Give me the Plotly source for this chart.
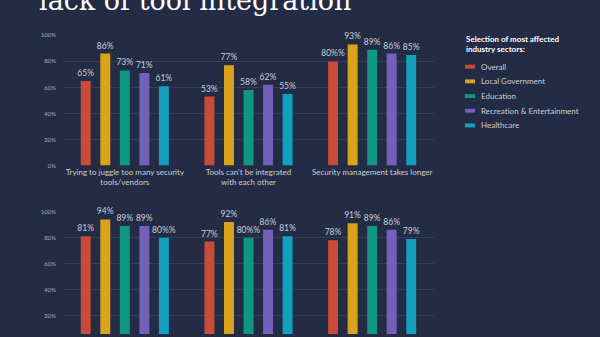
import plotly.graph_objects as go

W, H = 600, 337

series_names = ["Overall", "Local Government", "Education", "Recreation & Entertainment", "Healthcare"]
series_colors = ["#c94b38", "#d9a41c", "#0f9783", "#7460bb", "#139fbe"]

top_categories = ["Trying to juggle too many security<br>tools/vendors",
                  "Tools can't be integrated<br>with each other",
                  "Security management takes longer"]
top_values = [
    [65, 53, 80],   # Overall
    [86, 77, 93],   # Local Government
    [73, 58, 89],   # Education
    [71, 62, 86],   # Recreation & Entertainment
    [61, 55, 85],   # Healthcare
]

bottom_categories = ["Issue 4", "Issue 5", "Issue 6"]
bottom_values = [
    [81, 77, 78],
    [94, 92, 91],
    [89, 80, 89],
    [89, 86, 86],
    [80, 81, 79],
]

y_tickvals = [0, 20, 40, 60, 80, 100]
y_ticktext = ["0%", "20%", "40%", "60%", "80%", "100%"]

title_text = "lack of tool integration"
legend_title = "Selection of most affected<br>industry sectors:"

BG = "#232c44"
GRID = "#343e58"
TXT = "#c9ced8"

fig = go.Figure()

for i, name in enumerate(series_names):
    fig.add_trace(go.Bar(
        x=top_categories, y=top_values[i], name=name,
        marker=dict(color=series_colors[i], line=dict(width=0)),
        texttemplate="%{y}%", textposition="outside", constraintext="none",
        textfont=dict(size=8.5, color=TXT, family="Lato"),
        cliponaxis=False, xaxis="x", yaxis="y", showlegend=False,
    ))
    fig.add_trace(go.Bar(
        x=bottom_categories, y=bottom_values[i], name=name,
        marker=dict(color=series_colors[i], line=dict(width=0)),
        texttemplate="%{y}%", textposition="outside", constraintext="none",
        textfont=dict(size=8.5, color=TXT, family="Lato"),
        cliponaxis=False, xaxis="x2", yaxis="y2", showlegend=False,
    ))

def px_x(p):
    return p / W

def px_y(p):
    return 1 - p / H

xdom = [px_x(63), px_x(434)]
top_dom = [px_y(165), px_y(32)]
bot_dom = [0, px_y(212)]
# bottom axis: 133 px per 100 %, visible from y=212 to y=337
bot_min = 100 - (337 - 212) / 1.33

axis_common = dict(showgrid=False, zeroline=False, showline=False, ticks="",
                   tickfont=dict(size=8, color=TXT, family="Lato"))
yaxis_common = dict(tickvals=y_tickvals, ticktext=y_ticktext, showgrid=True,
                    gridcolor=GRID, gridwidth=1, zeroline=False, showline=False,
                    ticks="", tickfont=dict(size=6, color="#aab0bd", family="Lato"),
                    ticklabelstandoff=6)

fig.update_layout(
    width=W, height=H,
    paper_bgcolor=BG, plot_bgcolor=BG,
    margin=dict(l=0, r=0, t=0, b=0),
    barmode="group", bargap=0.21, bargroupgap=0.49,
    xaxis=dict(domain=xdom, anchor="y", **axis_common),
    yaxis=dict(domain=top_dom, range=[0, 100], anchor="x", **yaxis_common),
    xaxis2=dict(domain=xdom, anchor="y2", showticklabels=False,
                showgrid=False, zeroline=False, showline=False, ticks=""),
    yaxis2=dict(domain=bot_dom, range=[bot_min, 100], anchor="x2", **yaxis_common),
    showlegend=False,
)

# Title (cropped at top of the frame, as in the source image)
fig.add_annotation(text=title_text, xref="paper", yref="paper",
                   x=px_x(37), y=px_y(14), xanchor="left", yanchor="bottom",
                   showarrow=False,
                   font=dict(family="DejaVu Serif", size=27, color="#ffffff"))

# Legend (manual)
fig.add_annotation(text="<b>" + legend_title + "</b>", xref="paper", yref="paper",
                   x=px_x(464), y=px_y(29), xanchor="left", yanchor="top",
                   align="left", showarrow=False,
                   font=dict(family="Lato", size=8, color="#ffffff"))
for i, name in enumerate(series_names):
    yc = 64 + 15 * i
    fig.add_shape(type="rect", xref="paper", yref="paper",
                  x0=px_x(465), x1=px_x(475), y0=px_y(yc + 2), y1=px_y(yc - 2),
                  fillcolor=series_colors[i], line=dict(width=0))
    fig.add_annotation(text=name, xref="paper", yref="paper",
                       x=px_x(479), y=px_y(yc), xanchor="left", yanchor="middle",
                       showarrow=False,
                       font=dict(family="Lato", size=8, color=TXT))

fig.write_html("out.html")
